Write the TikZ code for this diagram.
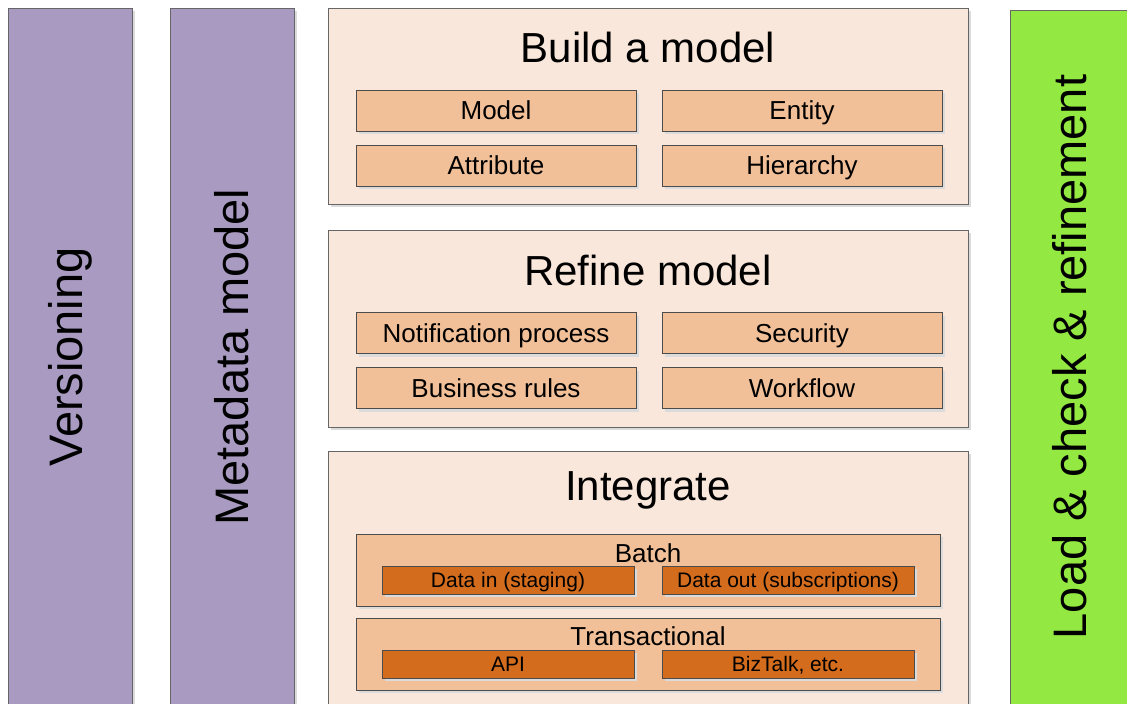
\documentclass[tikz,border=0pt]{standalone}
\usepackage{fontspec}
\setmainfont{Liberation Sans}
\usetikzlibrary{shadows}
\definecolor{lilac}{RGB}{168,154,193}
\definecolor{peach}{RGB}{250,231,219}
\definecolor{apricot}{RGB}{242,192,152}
\definecolor{rust}{RGB}{211,108,29}
\definecolor{lime}{RGB}{147,232,65}
\tikzset{
  box/.style={draw=black!60, line width=0.8pt, inner sep=0pt,
    drop shadow={shadow xshift=3pt, shadow yshift=-3pt, fill=black!14, opacity=1}},
  sidebar/.style={box, minimum width=124pt, minimum height=712pt},
  sidetext/.style={rotate=90, font=\fontsize{47pt}{50pt}\selectfont},
  panel/.style={box, fill=peach, minimum width=640pt},
  title/.style={font=\fontsize{42pt}{46pt}\selectfont},
  item/.style={box, fill=apricot, draw=black!70, minimum width=280pt, minimum height=41pt,
    text height=18.7pt, text depth=0pt, font=\fontsize{26pt}{28pt}\selectfont},
  group/.style={box, fill=apricot, draw=black!70, minimum width=584pt, minimum height=72pt},
  grouptext/.style={text height=18.7pt, text depth=0pt, font=\fontsize{26pt}{28pt}\selectfont},
  leaf/.style={box, fill=rust, draw=black!70, minimum width=252pt, minimum height=28pt,
    text height=15pt, text depth=0pt, font=\fontsize{21pt}{23pt}\selectfont}
}
\begin{document}
\begin{tikzpicture}[x=1pt,y=-1pt]
  \useasboundingbox (0,0) rectangle (1127,704);
  % side bars
  \node[sidebar, fill=lilac] (vers) at (70,364) {};
  \node[sidetext] (verstxt) at (70,357) {Versioning};
  \node[sidebar, fill=lilac] (meta) at (232,364) {};
  \node[sidetext] (metatxt) at (232,357) {Metadata model};
  \node[sidebar, fill=lime, minimum height=710pt] (load) at (1072,365) {};
  \node[sidetext] (loadtxt) at (1070,357) {Load \& check \& refinement};
  % panels
  \node[panel, minimum height=196pt] (build) at (648,106) {};
  \node[title] (buildtxt) at (648,47) {Build a model};
  \node[panel, minimum height=197pt] (refine) at (648,328.5) {};
  \node[title] (refinetxt) at (648,270) {Refine model};
  \node[panel, minimum height=269pt] (integ) at (648,585.5) {};
  \node[title] (integtxt) at (648,490) {Integrate};
  % items of build and refine
  \foreach \nm/\px/\py/\txt in {model/496/110.5/Model, entity/802/110.5/Entity,
      attr/496/165.5/Attribute, hier/802/165.5/Hierarchy,
      notif/496/333/Notification process, secur/802/333/Security,
      rules/496/388/Business rules, flow/802/388/Workflow}
    \node[item] (\nm) at (\px,\py) {\txt};
  % integrate groups
  \node[group] (batch) at (648,570) {};
  \node[grouptext] (batchtxt) at (648,553) {Batch};
  \node[leaf] (datain) at (508,580) {Data in (staging)};
  \node[leaf] (dataout) at (788,580) {Data out (subscriptions)};
  \node[group] (trans) at (648,654) {};
  \node[grouptext] (transtxt) at (648,636) {Transactional};
  \node[leaf] (api) at (508,664) {API};
  \node[leaf] (biztalk) at (788,664) {BizTalk, etc.};
\end{tikzpicture}
\end{document}
